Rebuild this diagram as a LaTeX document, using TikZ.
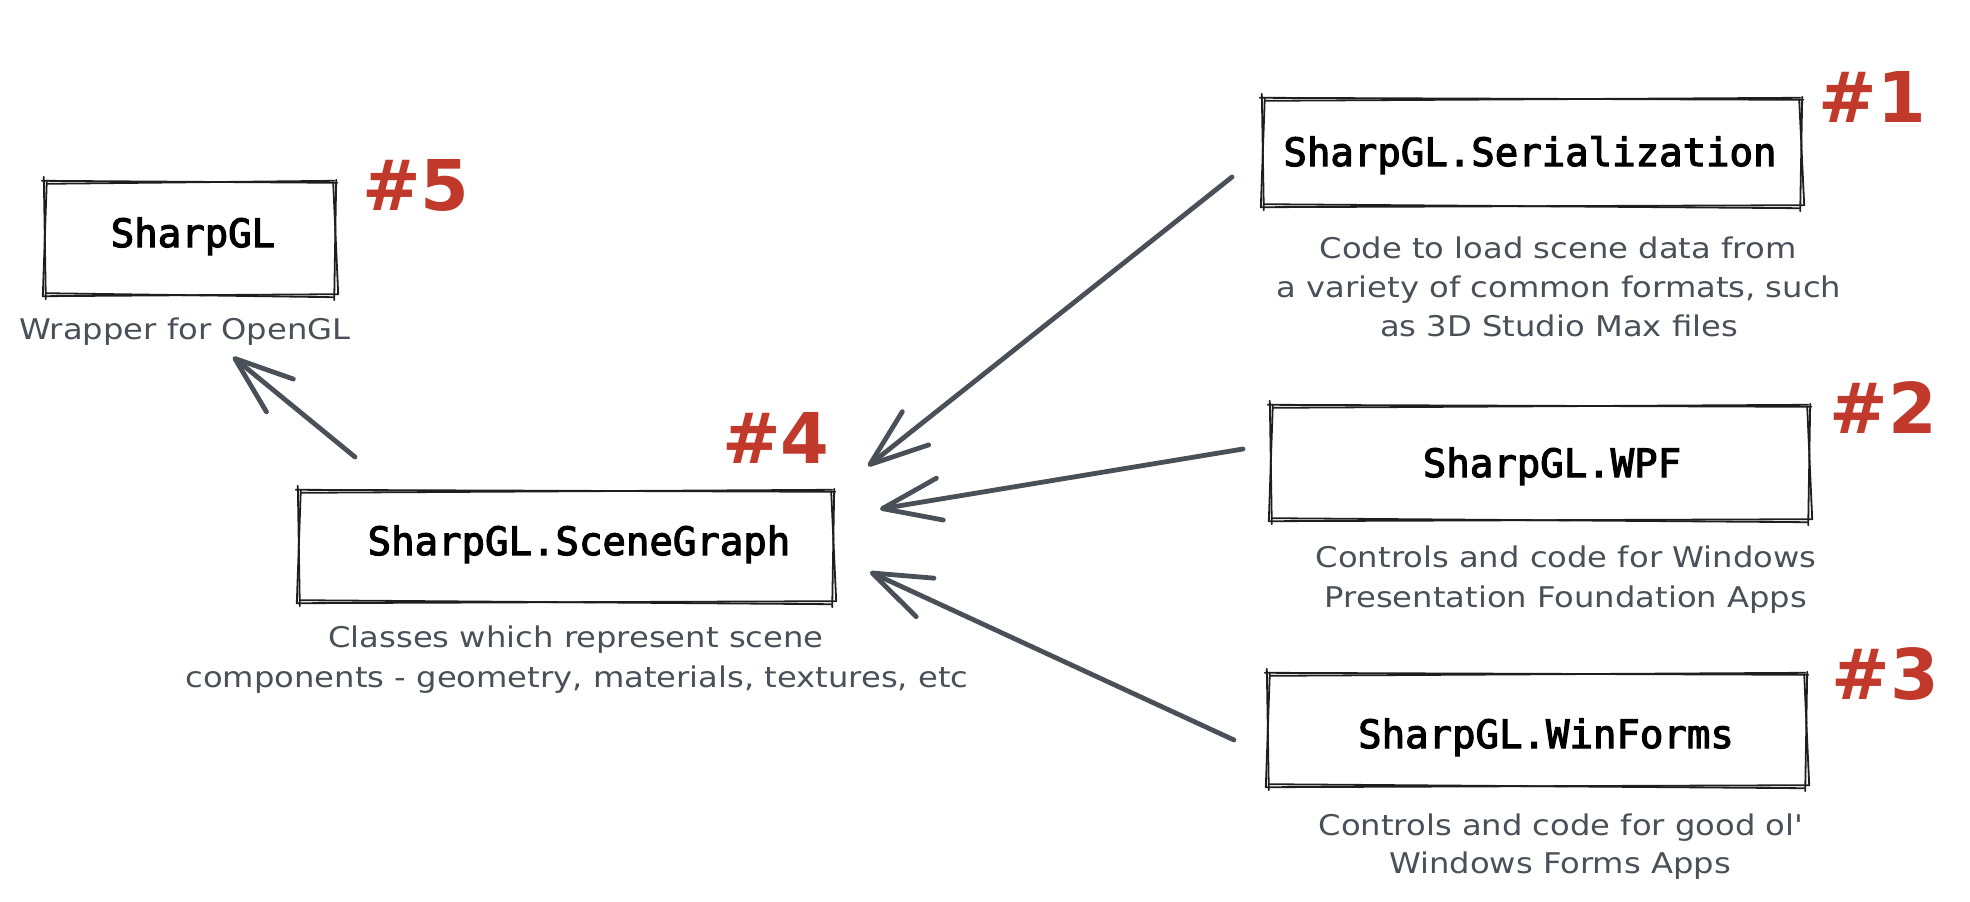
\documentclass[tikz,border=0pt]{standalone}
\usepackage{fontspec}
\usetikzlibrary{arrows.meta}
\newfontfamily\monof[FakeBold=3]{DejaVu Sans Mono}
\newfontfamily\handf[FakeStretch=1.13]{DejaVu Sans}
\newfontfamily\numf{DejaVu Sans}
\definecolor{ink}{HTML}{1E1E1E}
\definecolor{slate}{HTML}{495057}
\definecolor{markred}{HTML}{C0392B}
\tikzset{
  rough/.style={draw=ink, line width=1.8pt, line cap=round},
  boxnode/.style={draw=none, inner sep=0pt},
  boxtext/.style={font=\monof\fontsize{39}{47}\selectfont, text=black, anchor=base, inner sep=0pt},
  note/.style={font=\handf\fontsize{28.5}{38}\selectfont, text=slate, anchor=base, inner sep=0pt},
  num/.style={font=\numf\bfseries\fontsize{70}{80}\selectfont, text=markred, inner sep=0pt},
  conn/.style={draw=slate, line width=4.8pt, line cap=round, -{Straight Barb[angle=40:62pt, round]}},
}
\newcommand\roughbox[1]{%
  \draw[rough] ([shift={(-3,-1)}]#1.north west) -- ([shift={(2,1)}]#1.north east);
  \draw[rough] ([shift={(2,2)}]#1.north west) -- ([shift={(-1,-1)}]#1.north east);
  \draw[rough] ([shift={(-2,1)}]#1.south west) -- ([shift={(3,-1)}]#1.south east);
  \draw[rough] ([shift={(1,-2)}]#1.south west) -- ([shift={(-2,2)}]#1.south east);
  \draw[rough] ([shift={(-1,-5)}]#1.north west) -- ([shift={(1,4)}]#1.south west);
  \draw[rough] ([shift={(2,-1)}]#1.north west) -- ([shift={(-2,1)}]#1.south west);
  \draw[rough] ([shift={(1,-2)}]#1.north east) -- ([shift={(-1,5)}]#1.south east);
  \draw[rough] ([shift={(-2,1)}]#1.north east) -- ([shift={(3,-1)}]#1.south east);
}
\begin{document}
\begin{tikzpicture}[x=1pt,y=-1pt]
  \fill[white] (0,0) rectangle (1970,902);
  \useasboundingbox (0,0) rectangle (1970,902);

  % boxes
  \node[boxnode, minimum width=290pt, minimum height=113pt] (sgl) at (190,238.5) {};
  \node[boxnode, minimum width=534pt, minimum height=111pt] (scene) at (566,546.5) {};
  \node[boxnode, minimum width=538pt, minimum height=107pt] (ser) at (1532,152.5) {};
  \node[boxnode, minimum width=538pt, minimum height=114pt] (wpf) at (1540,463) {};
  \node[boxnode, minimum width=538pt, minimum height=112pt] (wf) at (1537,730) {};
  \roughbox{sgl}
  \roughbox{scene}
  \roughbox{ser}
  \roughbox{wpf}
  \roughbox{wf}

  % box texts
  \node[boxtext] (sgl-t) at (193,247) {SharpGL};
  \node[boxtext] (scene-t) at (579,555) {SharpGL.SceneGraph};
  \node[boxtext] (ser-t) at (1530,166) {SharpGL.Serialization};
  \node[boxtext] (wpf-t) at (1552,477) {SharpGL.WPF};
  \node[boxtext] (wf-t) at (1546,748) {SharpGL.WinForms};

  % notes
  \node[note] (sgl-l) at (185,339) {Wrapper for OpenGL};
  \node[note] (scene-l1) at (576,647) {Classes which represent scene};
  \node[note] (scene-l2) at (577,687) {components - geometry, materials, textures, etc};
  \node[note] (ser-l1) at (1558,258) {Code to load scene data from};
  \node[note] (ser-l2) at (1559,297) {a variety of common formats, such};
  \node[note] (ser-l3) at (1559,336) {as 3D Studio Max files};
  \node[note] (wpf-l1) at (1566,567) {Controls and code for Windows};
  \node[note] (wpf-l2) at (1566,607) {Presentation Foundation Apps};
  \node[note] (wf-l1) at (1561,835) {Controls and code for good ol'};
  \node[note] (wf-l2) at (1560,873) {Windows Forms Apps};

  % numbers
  \node[num] (n1) at (1872,97) {\#1};
  \node[num] (n2) at (1883,408) {\#2};
  \node[num] (n3) at (1885,674) {\#3};
  \node[num] (n4) at (776,438) {\#4};
  \node[num] (n5) at (416,185) {\#5};

  % connector end points
  \coordinate (a0s) at (355,457);  \coordinate (a0e) at (233,357);
  \coordinate (a1s) at (1232,177); \coordinate (a1e) at (868,466);
  \coordinate (a2s) at (1243,449); \coordinate (a2e) at (880,509);
  \coordinate (a3s) at (1234,740); \coordinate (a3e) at (870,572);

  \draw[conn] (a0s) -- (a0e);
  \draw[conn] (a1s) -- (a1e);
  \draw[conn] (a2s) -- (a2e);
  \draw[conn] (a3s) -- (a3e);
\end{tikzpicture}
\end{document}
